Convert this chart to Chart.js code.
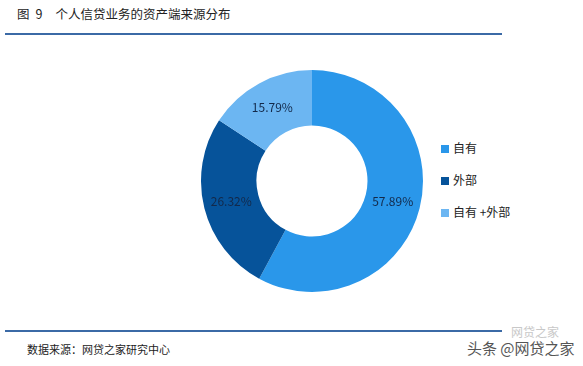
<!DOCTYPE html>
<html><head><meta charset="utf-8">
<script src="https://cdn.jsdelivr.net/npm/chart.js@4/dist/chart.umd.min.js"></script>
<style>
html,body{margin:0;padding:0;background:#fff;width:583px;height:366px;overflow:hidden;font-family:"Noto Sans CJK SC","Noto Sans",sans-serif;}
.abs{position:absolute;white-space:nowrap;}
#title{left:17px;top:5px;font-size:12.5px;color:#222;line-height:18px;}
.rule{position:absolute;left:5px;width:497px;height:2px;background:#3b6aa6;}
#foot{left:27px;top:340px;font-size:11px;color:#222;line-height:18px;}
#wm{left:467px;top:337px;font-size:15px;color:#555;line-height:22px;}
#wm2{left:511px;top:325px;font-size:12px;color:#c8c8c8;line-height:14px;}
#box{position:absolute;left:196px;top:65px;width:232px;height:232px;}
#legend{position:absolute;left:441px;top:139px;width:120px;height:100px;}
.li{position:absolute;left:0;height:18px;line-height:18px;font-size:12px;color:#222;white-space:nowrap;}
.sw{display:inline-block;width:8px;height:8px;vertical-align:middle;margin-right:4px;position:relative;top:-1px;}
</style></head>
<body>
<div id="title" class="abs"><span>图</span><span style="margin-left:6px">9</span><span style="margin-left:13px">个人信贷业务的资产端来源分布</span></div>
<div class="rule" style="top:33px"></div>
<div id="box"><canvas id="c"></canvas></div>
<div id="legend"></div>
<div class="rule" style="top:330px"></div>
<div id="foot" class="abs">数据来源：网贷之家研究中心</div>
<div id="wm2" class="abs">网贷之家</div>
<div id="wm" class="abs">头条 @网贷之家</div>
<script>
const categories = ["自有", "外部", "自有+外部"];
const values = [57.89, 26.32, 15.79];
const colors = ["#2a97ea", "#06539a", "#6cb6f2"];

const lg = document.getElementById('legend');
const legendY = [0, 32, 64];
categories.forEach((c, i) => {
  const d = document.createElement('div');
  d.className = 'li';
  d.style.top = legendY[i] + 'px';
  d.innerHTML = '<span class="sw" style="background:' + colors[i] + '"></span>' + c.replace('+', ' +');
  lg.appendChild(d);
});

const labelPlugin = {
  id: 'sliceLabels',
  afterDatasetsDraw(chart) {
    const ctx = chart.ctx;
    const meta = chart.getDatasetMeta(0);
    ctx.save();
    ctx.font = '12px "Noto Sans CJK SC", "Noto Sans", sans-serif';
    ctx.fillStyle = '#13294a';
    ctx.textAlign = 'center';
    ctx.textBaseline = 'middle';
    meta.data.forEach((arc, i) => {
      const p = arc.getCenterPoint();
      ctx.fillText(values[i].toFixed(2) + '%', p.x, p.y);
    });
    ctx.restore();
  }
};

new Chart(document.getElementById('c'), {
  type: 'doughnut',
  data: {
    labels: categories,
    datasets: [{
      data: values,
      backgroundColor: colors,
      borderWidth: 0
    }]
  },
  options: {
    responsive: true,
    maintainAspectRatio: false,
    animation: false,
    cutout: '50%',
    layout: { padding: 5 },
    plugins: { legend: { display: false }, tooltip: { enabled: false } }
  },
  plugins: [labelPlugin]
});
</script>
</body></html>
